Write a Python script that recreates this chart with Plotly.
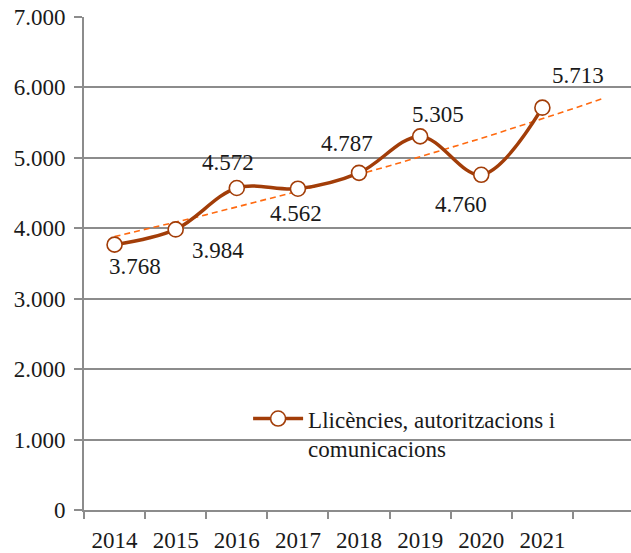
import numpy as np
import plotly.graph_objects as go

years = ["2014", "2015", "2016", "2017", "2018", "2019", "2020", "2021"]
values = [3768, 3984, 4572, 4562, 4787, 5305, 4760, 5713]
series_name = "Llicències, autoritzacions i<br>comunicacions"
y_ticks = [0, 1000, 2000, 3000, 4000, 5000, 6000, 7000]

# label offsets in pixels (dx right, dy down) – style only
label_offsets = [(20, 22), (42, 21), (-9, -26), (-2, 25), (-12, -29), (18, -22), (-20, 30), (36, -32)]

FONT = "Liberation Serif"
LINE_COLOR = "#a23d08"
TREND_COLOR = "#ff6a10"
GRID = "#8c8c8c"

x = np.arange(len(values))
# exponential trendline, forecast forward one period
b, a = np.polyfit(x, np.log(values), 1)
xt = np.linspace(0, len(values), 60)
yt = np.exp(a + b * xt)

fig = go.Figure()
fig.add_trace(go.Scatter(
    x=xt, y=yt, mode="lines", showlegend=False, hoverinfo="skip",
    line=dict(color=TREND_COLOR, width=1.6, dash="6px,4px"),
))
fig.add_trace(go.Scatter(
    x=x, y=values, mode="lines+markers", name=series_name,
    line=dict(color=LINE_COLOR, width=3.5, shape="spline", smoothing=1.0),
    marker=dict(symbol="circle", size=15, color="white", line=dict(color=LINE_COLOR, width=1.6)),
))

def fmt(v):
    return f"{v:,}".replace(",", ".")

for i, v in enumerate(values):
    dx, dy = label_offsets[i]
    fig.add_annotation(x=i, y=v, text=fmt(v), showarrow=False, xanchor="center", yanchor="middle",
                       xshift=dx, yshift=-dy, font=dict(family=FONT, size=23, color="#1a1a1a"))

fig.update_layout(
    width=631, height=553,
    margin=dict(l=84, r=0, t=17, b=43),
    paper_bgcolor="white", plot_bgcolor="white",
    separators=",.",
    font=dict(family=FONT, size=23, color="#1a1a1a"),
    legend=dict(x=0.30, y=0.229, xanchor="left", yanchor="top", bgcolor="rgba(0,0,0,0)",
                font=dict(family=FONT, size=23, color="#1a1a1a"), valign="top", itemwidth=50),
)
fig.update_xaxes(
    range=[-0.5, 8.45], tickmode="array", tickvals=list(x), ticktext=years, ticks="",
    showgrid=False, zeroline=False, showline=True, linecolor=GRID, linewidth=2,
    tickfont=dict(family=FONT, size=23, color="#1a1a1a"), ticklabelstandoff=8,
    minor=dict(tickmode="array", tickvals=[i - 0.5 for i in range(len(values) + 1)],
               ticks="outside", ticklen=7, tickcolor=GRID, tickwidth=2, showgrid=False),
)
fig.update_yaxes(
    range=[0, 7000], tickmode="array", tickvals=y_ticks,
    ticktext=[fmt(v) for v in y_ticks], ticks="outside", ticklen=8, tickcolor=GRID, tickwidth=1.6,
    showgrid=True, gridcolor=GRID, gridwidth=1.6, zeroline=False,
    showline=True, linecolor=GRID, linewidth=2,
    tickfont=dict(family=FONT, size=23, color="#1a1a1a"), ticklabelstandoff=4,
    ticklabeloverflow="allow",
)

fig.write_html("out.html", config={"displayModeBar": False},
               post_script="document.body.style.margin='0';")
